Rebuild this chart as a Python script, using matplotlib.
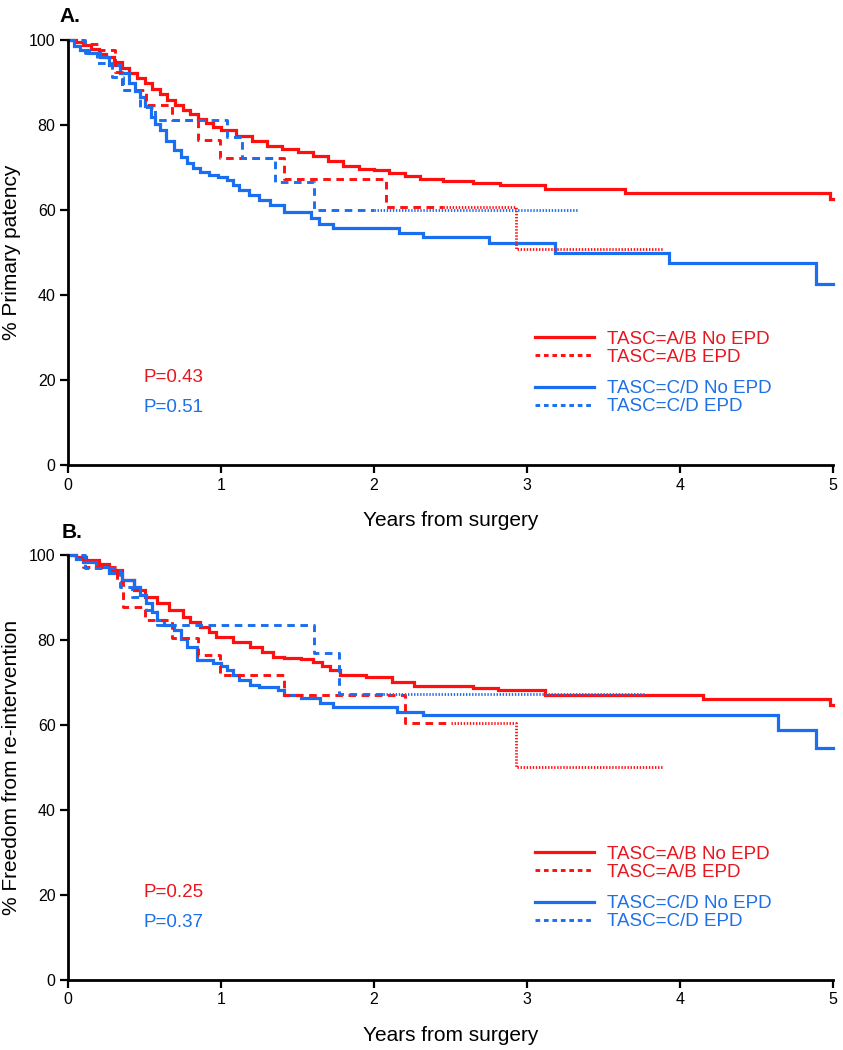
import numpy as np
import matplotlib.pyplot as plt

plt.rcParams['font.family'] = ['Liberation Sans', 'DejaVu Sans']

RED = '#ff1010'
BLUE = '#1a6ff0'
RED_TXT = '#e8161e'
BLUE_TXT = '#1e70e6'

# ---- Panel A: primary patency (time in years, % patent) ----
a_ab_noepd_t = [0, 0.05, 0.1, 0.15, 0.2, 0.25, 0.3, 0.35, 0.4, 0.45, 0.5, 0.55, 0.6, 0.65,
                0.7, 0.75, 0.8, 0.85, 0.9, 0.95, 1.0, 1.1, 1.2, 1.3, 1.4, 1.5, 1.6, 1.7,
                1.8, 1.9, 2.0, 2.1, 2.2, 2.3, 2.45, 2.65, 2.82, 3.12, 3.64, 4.98]
a_ab_noepd_s = [100, 99.5, 98.8, 97.8, 96.8, 96, 94.8, 93.5, 92.2, 91, 89.8, 88.5, 87.2, 85.8,
                84.8, 83.6, 82.5, 81.3, 80.5, 79.6, 78.8, 77.4, 76.3, 75.1, 74.3, 73.6, 72.6, 71.6,
                70.3, 69.7, 69.3, 68.7, 68.1, 67.3, 66.8, 66.3, 65.8, 64.9, 64.0, 62.6]

a_ab_epd_t = [0, 0.1, 0.2, 0.31, 0.35, 0.51, 0.68, 0.85, 0.99, 1.41, 2.08, 2.93]
a_ab_epd_s = [100, 99, 97.6, 92.5, 88.2, 84.7, 81.2, 76.5, 72.2, 67.3, 60.7, 50.8]

a_cd_noepd_t = [0, 0.04, 0.08, 0.14, 0.21, 0.27, 0.34, 0.4, 0.44, 0.47, 0.5, 0.54, 0.57, 0.6,
                0.64, 0.69, 0.74, 0.78, 0.82, 0.86, 0.92, 0.98, 1.04, 1.08, 1.12, 1.18, 1.25,
                1.32, 1.41, 1.59, 1.64, 1.73, 2.16, 2.32, 2.75, 3.18, 3.93, 4.89]
a_cd_noepd_s = [100, 98.6, 97.6, 97, 96, 94.2, 92.2, 90, 88, 86.6, 84.5, 81.9, 80.2, 78.8,
                76.3, 74.1, 72.4, 71, 70, 69, 68.3, 67.7, 67.1, 66, 64.7, 63.6, 62.4,
                61.2, 59.6, 58.2, 56.8, 55.8, 54.6, 53.6, 52.2, 49.9, 47.5, 42.6]

a_cd_epd_t = [0, 0.11, 0.19, 0.29, 0.36, 0.47, 0.57, 1.04, 1.14, 1.35, 1.61]
a_cd_epd_s = [100, 96.9, 94.5, 91.3, 88.2, 84.3, 81.2, 77.2, 72.2, 66.6, 60.0]

# ---- Panel B: freedom from re-intervention ----
b_ab_noepd_t = [0, 0.05, 0.12, 0.2, 0.27, 0.35, 0.43, 0.5, 0.58, 0.66, 0.75, 0.8, 0.86, 0.92,
                0.97, 1.08, 1.19, 1.27, 1.34, 1.41, 1.52, 1.6, 1.66, 1.71, 1.78, 1.95, 2.12,
                2.26, 2.65, 2.81, 3.12, 4.15, 4.98]
b_ab_noepd_s = [100, 99.4, 98.8, 97.8, 96.5, 94.2, 91.8, 90.2, 88.7, 87.0, 85.4, 84.3, 83.1, 81.8,
                80.7, 79.6, 78.4, 77.2, 76, 75.8, 75.5, 74.8, 73.8, 72.9, 71.8, 71.3, 70.1,
                69.2, 68.7, 68.2, 67.1, 66.1, 64.7]

b_ab_epd_t = [0, 0.1, 0.32, 0.36, 0.5, 0.68, 0.85, 0.99, 1.41, 2.2, 2.93]
b_ab_epd_s = [100, 97.2, 93.6, 87.8, 84.7, 80.5, 76.5, 71.8, 67.1, 60.4, 50.0]

b_cd_noepd_t = [0, 0.05, 0.1, 0.18, 0.27, 0.35, 0.43, 0.47, 0.51, 0.55, 0.58, 0.63, 0.69, 0.74,
                0.78, 0.84, 0.95, 1.0, 1.04, 1.08, 1.12, 1.19, 1.25, 1.37, 1.41, 1.52, 1.65,
                1.73, 2.15, 2.32, 4.64, 4.89]
b_cd_noepd_s = [100, 99, 98.4, 97.2, 95.7, 94.2, 92.5, 90.6, 88.7, 86.6, 84.7, 83.5, 82.4, 80.2,
                78.4, 75.3, 74.6, 73.8, 72.9, 71.7, 70.6, 69.4, 68.9, 68.2, 67.1, 66.4, 65.2,
                64.2, 63.1, 62.4, 58.8, 54.6]

b_cd_epd_t = [0, 0.11, 0.34, 0.42, 0.51, 0.58, 1.61, 1.77]
b_cd_epd_s = [100, 97, 92.5, 90.1, 87.1, 83.5, 77, 67.3]

labels = ['TASC=A/B No EPD', 'TASC=A/B EPD', 'TASC=C/D No EPD', 'TASC=C/D EPD']
xticks = [0, 1, 2, 3, 4, 5]
yticks = [0, 20, 40, 60, 80, 100]


def km_path(t, s, t_end):
    xs, ys = [], []
    for i in range(len(t)):
        nxt = t[i + 1] if i + 1 < len(t) else t_end
        xs += [t[i], nxt]
        ys += [s[i], s[i]]
    return np.array(xs), np.array(ys)


def draw_km(ax, t, s, t_end, color, style, t_split=None):
    xs, ys = km_path(t, s, t_end)
    if style == 'solid':
        ax.plot(xs, ys, color=color, lw=2.3, solid_joinstyle='miter', clip_on=False)
        return
    # dashed part, then dotted tail
    v = ys[np.searchsorted(xs, t_split, side='right') - 1]
    m = xs <= t_split
    ax.plot(np.append(xs[m], t_split), np.append(ys[m], v), color=color, lw=2.1,
            dashes=(2.6, 1.9), clip_on=False)
    ax.plot(np.insert(xs[~m], 0, t_split), np.insert(ys[~m], 0, v), color=color, lw=2.0,
            dashes=(0.5, 0.6), clip_on=False)


def style_axes(ax, ylabel):
    ax.set_xlim(0, 5)
    ax.set_ylim(0, 100)
    ax.set_xticks(xticks)
    ax.set_yticks(yticks)
    for sp in ['top', 'right']:
        ax.spines[sp].set_visible(False)
    for sp in ['left', 'bottom']:
        ax.spines[sp].set_linewidth(2)
    ax.tick_params(direction='out', length=6, width=1.6, labelsize=11.5, pad=3)
    ax.set_xlabel('Years from surgery', fontsize=15)
    ax.xaxis.set_label_coords(0.5, -0.13)
    ax.xaxis.label.set_va('center')
    ax.set_ylabel(ylabel, fontsize=15)
    ax.yaxis.set_label_coords(-0.074, 0.5)
    ax.yaxis.label.set_va('center')


def add_legend(ax):
    h = [plt.Line2D([], [], color=RED, lw=2.3),
         plt.Line2D([], [], color=RED, lw=2.1, dashes=(1.6, 1.3)),
         plt.Line2D([], [], color=BLUE, lw=2.3),
         plt.Line2D([], [], color=BLUE, lw=2.1, dashes=(1.6, 1.3))]
    kw = dict(loc='center left', frameon=False, fontsize=13.5, handlelength=3.15,
              handletextpad=0.7, labelspacing=0.05, borderpad=0, borderaxespad=0)
    leg1 = ax.legend(h[:2], labels[:2], bbox_to_anchor=(0.61, 0.275), **kw)
    for txt in leg1.get_texts():
        txt.set_color(RED_TXT)
    ax.add_artist(leg1)
    leg2 = ax.legend(h[2:], labels[2:], bbox_to_anchor=(0.61, 0.158), **kw)
    for txt in leg2.get_texts():
        txt.set_color(BLUE_TXT)


fig = plt.figure(figsize=(8.43, 10.5), dpi=100)
axA = fig.add_axes([0.0807, 0.5571, 0.9075, 0.4048])
axB = fig.add_axes([0.0807, 0.0667, 0.9075, 0.4048])

draw_km(axA, a_ab_noepd_t, a_ab_noepd_s, 5.0, RED, 'solid')
draw_km(axA, a_cd_noepd_t, a_cd_noepd_s, 5.0, BLUE, 'solid')
draw_km(axA, a_ab_epd_t, a_ab_epd_s, 3.89, RED, 'dash', t_split=2.45)
draw_km(axA, a_cd_epd_t, a_cd_epd_s, 3.33, BLUE, 'dash', t_split=2.0)

draw_km(axB, b_ab_noepd_t, b_ab_noepd_s, 5.0, RED, 'solid')
draw_km(axB, b_cd_noepd_t, b_cd_noepd_s, 5.0, BLUE, 'solid')
draw_km(axB, b_ab_epd_t, b_ab_epd_s, 3.88, RED, 'dash', t_split=2.5)
draw_km(axB, b_cd_epd_t, b_cd_epd_s, 3.77, BLUE, 'dash', t_split=2.06)

style_axes(axA, '% Primary patency')
style_axes(axB, '% Freedom from re-intervention')
add_legend(axA)
add_legend(axB)

for ax, p1, p2 in [(axA, 'P=0.43', 'P=0.51'), (axB, 'P=0.25', 'P=0.37')]:
    ax.text(0.098, 0.205, p1, transform=ax.transAxes, color=RED_TXT, fontsize=13.5, va='center')
    ax.text(0.098, 0.136, p2, transform=ax.transAxes, color=BLUE_TXT, fontsize=13.5, va='center')

fig.text(0.071, 1 - 16 / 1050, 'A.', fontsize=15, weight='bold', va='center')
fig.text(0.073, 1 - 532 / 1050, 'B.', fontsize=15, weight='bold', va='center')

fig.savefig('out.png', dpi=100)
